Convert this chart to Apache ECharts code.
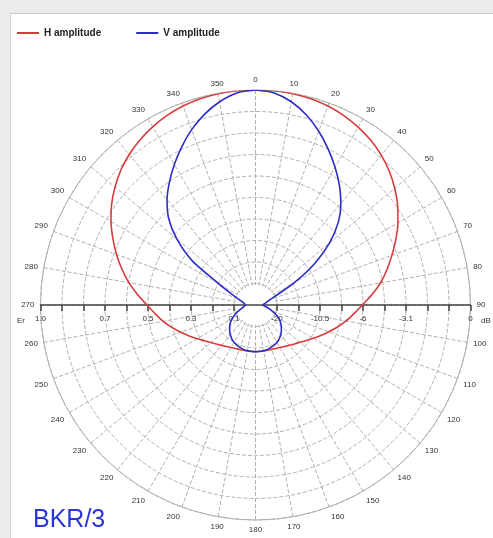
<!DOCTYPE html>
<html>
<head>
<meta charset="utf-8">
<script src="https://cdn.jsdelivr.net/npm/echarts@6/dist/echarts.min.js"></script>
<style>
    html, body { margin: 0; padding: 0; background: #ececec; }
    #panel {
        position: absolute; left: 10px; top: 13px; width: 490px; height: 530px;
        background: #fff; border-top: 1px solid #c9c9c9; border-left: 1px solid #d6d6d6;
    }
    #chart { position: absolute; left: 0; top: 0; width: 493px; height: 538px; }
</style>
</head>
<body>
<div id="panel"></div>
<div id="chart"></div>
<script>
// angle in degrees, clockwise from top
var angles = [
    0, 5, 10, 15, 20, 25, 30, 35, 40, 45, 50, 55, 60, 65, 70, 75, 80, 85, 90,
    95, 100, 105, 110, 115, 120, 125, 130, 135, 140, 145, 150, 155, 160, 165, 170, 175, 180,
    185, 190, 195, 200, 205, 210, 215, 220, 225, 230, 235, 240, 245, 250, 255, 260, 265, 270,
    275, 280, 285, 290, 295, 300, 305, 310, 315, 320, 325, 330, 335, 340, 345, 350, 355, 360
];

// relative field strength (0..1)
var hAmplitude = [
    1.0, 1.0, 0.998, 0.993, 0.985, 0.972, 0.955, 0.935, 0.91, 0.88, 0.845, 0.807, 0.765, 0.72, 0.675, 0.633, 0.59, 0.543, 0.497,
    0.46, 0.428, 0.395, 0.363, 0.335, 0.31, 0.288, 0.27, 0.256, 0.245, 0.236, 0.228, 0.223, 0.22, 0.218, 0.217, 0.216, 0.216,
    0.216, 0.217, 0.218, 0.22, 0.223, 0.228, 0.236, 0.245, 0.257, 0.272, 0.29, 0.313, 0.34, 0.37, 0.403, 0.436, 0.468, 0.505,
    0.55, 0.598, 0.643, 0.688, 0.732, 0.776, 0.817, 0.853, 0.886, 0.914, 0.937, 0.957, 0.973, 0.985, 0.993, 0.998, 1.0, 1.0
];

var vAmplitude = [
    1.0, 0.99, 0.96, 0.915, 0.86, 0.8, 0.74, 0.68, 0.618, 0.545, 0.45, 0.335, 0.21, 0.11, 0.072, 0.055, 0.045, 0.038, 0.034,
    0.04, 0.05, 0.065, 0.083, 0.105, 0.125, 0.142, 0.157, 0.17, 0.182, 0.192, 0.2, 0.206, 0.21, 0.214, 0.216, 0.217, 0.218,
    0.217, 0.216, 0.214, 0.21, 0.206, 0.2, 0.192, 0.182, 0.17, 0.157, 0.142, 0.125, 0.106, 0.087, 0.07, 0.058, 0.051, 0.047,
    0.05, 0.056, 0.068, 0.088, 0.125, 0.195, 0.36, 0.478, 0.572, 0.64, 0.698, 0.755, 0.812, 0.868, 0.918, 0.96, 0.99, 1.0
];

// rings on the horizontal scale
var ringTicks = [0.1, 0.2, 0.3, 0.4, 0.5, 0.6, 0.7, 0.8, 0.9, 1.0];
var erLabels = [1.0, 0.7, 0.5, 0.3, 0.1];
var dbLabels = ['0', '-3.1', '-6', '-10.5', '-20'];

var seriesNames = ['H amplitude', 'V amplitude'];
var seriesColors = ['#d93b3b', '#2c2cc8'];

var cx = 255.5, cy = 305, R = 215;

function pairs(values) {
    return angles.map(function (a, i) {
        return [values[i], a];
    });
}

var dom = document.getElementById('chart');
var myChart = echarts.init(dom);

var gridLine = { color: '#b0b0b0', width: 1, type: [4, 2] };

var option = {
    animation: false,
    textStyle: { fontFamily: 'Liberation Sans' },
    legend: {
        data: seriesNames,
        left: 17,
        top: 28,
        padding: 0,
        icon: 'rect',
        itemWidth: 22,
        itemHeight: 2,
        itemGap: 35,
        textStyle: { fontSize: 10, fontWeight: 'bold', color: '#222' }
    },
    polar: {
        center: [cx, cy],
        radius: R
    },
    angleAxis: {
        type: 'value',
        min: 0,
        max: 360,
        interval: 10,
        startAngle: 90,
        clockwise: true,
        axisLine: { lineStyle: { color: '#b0b0b0', width: 1 } },
        axisTick: { show: false },
        axisLabel: {
            fontSize: 8,
            color: '#333',
            margin: 6,
            formatter: function (v) {
                return v === 360 ? '' : String(v);
            }
        },
        splitLine: { lineStyle: gridLine }
    },
    radiusAxis: {
        type: 'value',
        min: 0,
        max: 1,
        interval: 0.1,
        axisLine: { show: false },
        axisTick: { show: false },
        axisLabel: { show: false },
        splitLine: { lineStyle: gridLine }
    },
    grid: {
        left: cx - R,
        right: 493 - (cx + R),
        top: 250,
        bottom: 538 - cy
    },
    xAxis: {
        type: 'value',
        min: -1,
        max: 1,
        position: 'bottom',
        z: 5,
        splitLine: { show: false },
        axisLine: { lineStyle: { color: '#444', width: 1.5 } },
        axisTick: {
            customValues: ringTicks.map(function (v) { return -v; }).concat(ringTicks),
            length: 6,
            lineStyle: { color: '#444', width: 1.5 }
        },
        axisLabel: {
            customValues: erLabels.map(function (v) { return -v; }).concat(erLabels),
            fontSize: 8,
            color: '#333',
            margin: 10,
            formatter: function (v) {
                if (v < 0) {
                    return Math.abs(v).toFixed(1);
                }
                var idx = erLabels.indexOf(Math.round(v * 10) / 10);
                return idx >= 0 ? dbLabels[idx] : '';
            }
        }
    },
    yAxis: { type: 'value', show: false },
    graphic: [
        {
            type: 'circle',
            z: 1,
            silent: true,
            shape: { cx: cx, cy: cy, r: 20 },
            style: { fill: '#fff' }
        },
        {
            type: 'text',
            x: 21, y: 321, z: 5,
            style: { text: 'Er', fontSize: 8, fill: '#333', align: 'center', verticalAlign: 'middle', fontFamily: 'Liberation Sans' }
        },
        {
            type: 'text',
            x: 486, y: 321, z: 5,
            style: { text: 'dB', fontSize: 8, fill: '#333', align: 'center', verticalAlign: 'middle', fontFamily: 'Liberation Sans' }
        },
        {
            type: 'text',
            x: 33, y: 508, z: 5,
            style: { text: 'BKR/3', fontSize: 25, fill: '#2a35d8', fontFamily: 'Liberation Sans' }
        }
    ],
    series: [
        {
            name: seriesNames[0],
            type: 'line',
            coordinateSystem: 'polar',
            data: pairs(hAmplitude),
            showSymbol: false,
            smooth: 0.3,
            z: 6,
            lineStyle: { color: seriesColors[0], width: 1.6 },
            itemStyle: { color: seriesColors[0] }
        },
        {
            name: seriesNames[1],
            type: 'line',
            coordinateSystem: 'polar',
            data: pairs(vAmplitude),
            showSymbol: false,
            smooth: 0.3,
            z: 6,
            lineStyle: { color: seriesColors[1], width: 1.6 },
            itemStyle: { color: seriesColors[1] }
        }
    ]
};

if (option && typeof option === 'object') {
    myChart.setOption(option);
}
</script>
</body>
</html>
